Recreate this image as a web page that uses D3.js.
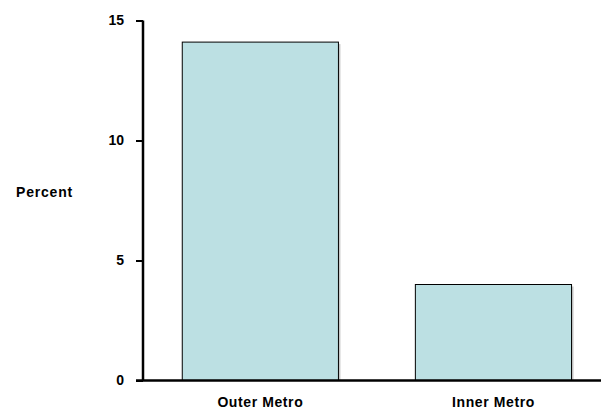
<!DOCTYPE html>
<html><head><meta charset="utf-8">
<script src="https://cdn.jsdelivr.net/npm/d3@7"></script>
<style>body{margin:0;background:#fff}text{font-family:"Liberation Sans",Arial,sans-serif;font-weight:bold}</style>
</head><body>
<script>
const categories = ["Outer Metro", "Inner Metro"];
const values = [14.1, 4.0];
const yTicks = [0, 5, 10, 15];

const W = 601, H = 412;
const FONT = '"Liberation Sans",Arial,sans-serif';
const svg = d3.select("body").append("svg").attr("width", W).attr("height", H);
const y = d3.scaleLinear().domain([0, 15]).range([380.5, 20.5]);
const x = d3.scaleBand().domain(categories).range([143.8, 610]).paddingInner(0.33).paddingOuter(0.165);

// bars with shadow
svg.selectAll("rect.sh").data(values).join("rect")
  .attr("x", (d,i) => x(categories[i]) + 2).attr("y", d => y(d) + 2)
  .attr("width", x.bandwidth()).attr("height", d => y(0) - y(d) - 2)
  .attr("fill", "#c8c8c8");
svg.selectAll("rect.bar").data(values).join("rect")
  .attr("x", (d,i) => x(categories[i])).attr("y", d => y(d))
  .attr("width", x.bandwidth()).attr("height", d => y(0) - y(d))
  .attr("fill", "#bce0e3").attr("stroke", "#000").attr("stroke-width", 1);

// y axis
const ya = svg.append("g").attr("transform", "translate(143,0)")
  .call(d3.axisLeft(y).tickValues(yTicks).tickSize(7).tickPadding(12));
ya.select(".domain").attr("d", `M0,${y(15)}V${y(0)}`).attr("stroke-width", 2.5);
ya.selectAll(".tick line").attr("stroke-width", 2);
ya.selectAll(".tick text").attr("font-size", 14).attr("font-family", FONT).attr("font-weight", "bold").attr("fill", "#000");

// x axis
const xa = svg.append("g").attr("transform", `translate(0,${y(0)})`)
  .call(d3.axisBottom(x).tickSize(0).tickPadding(17));
xa.select(".domain").attr("d", `M136,0H601`).attr("stroke-width", 2.5);
xa.selectAll(".tick text").attr("font-size", 14).attr("letter-spacing", "0.6px")
  .attr("font-family", FONT).attr("font-weight", "bold").attr("fill", "#000");

svg.append("text").attr("x", 16).attr("y", 197).attr("font-size", 14)
  .attr("letter-spacing", "0.8px").text("Percent");
</script>
</body></html>
